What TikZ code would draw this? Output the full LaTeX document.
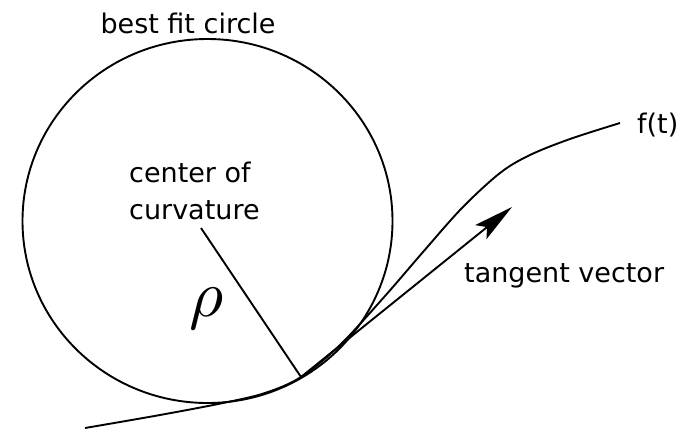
\documentclass[tikz,border=0pt]{standalone}
\usepackage{fontspec}
\newfontfamily\labfont{DejaVu Sans}
\usetikzlibrary{arrows.meta}
\begin{document}
\begin{tikzpicture}[x=1pt,y=-1pt,
  lab/.style={font=\labfont\fontsize{27}{32}\selectfont, inner sep=0pt, anchor=base},
  ln/.style={line width=1.9pt, black}]
\useasboundingbox (0,0) rectangle (694,432);
\coordinate (c) at (207.5,221);
\coordinate (ctr) at (201,228);
\coordinate (p) at (301,377);
\coordinate (tip) at (512,207);
\coordinate (fend) at (620,123);
% best fit circle
\draw[ln] (c) ellipse[x radius=185, y radius=182];
% curve f(t)
\draw[ln] plot[smooth, tension=0.55] coordinates {(85,428) (160,415) (223,403) (265,393) (p) (340,345) (385,296) (423,252) (462,208) (500,173) (530,155) (570,139) (fend)};
% radius
\draw[ln] (ctr) -- (p);
% tangent vector
\draw[ln, -{Stealth[length=40pt,width=18pt,inset=8pt]}] (p) -- (tip);
% labels
\node[lab] (title) at (188,33) {best fit circle};
\node[lab, anchor=base west] (cen1) at (129,182) {center of};
\node[lab, anchor=base west] (cen2) at (129,219) {curvature};
\node[lab, anchor=base west] (tv) at (464,282) {tangent vector};
\node[lab, anchor=base west] (ft) at (637,133) {f(t)};
\node[inner sep=0pt, anchor=base, scale=6.6] (rho) at (207,316) {$\rho$};
\end{tikzpicture}
\end{document}
